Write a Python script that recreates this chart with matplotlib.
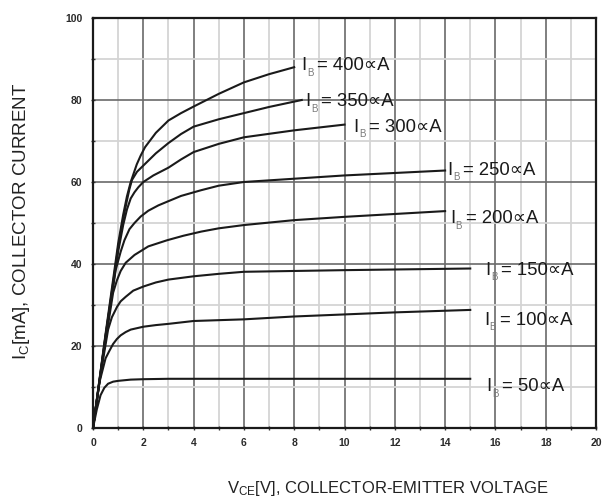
import numpy as np
import matplotlib.pyplot as plt

plt.rcParams['font.family'] = ['Liberation Sans', 'DejaVu Sans']
plt.rcParams['mathtext.fontset'] = 'custom'
plt.rcParams['mathtext.rm'] = 'Liberation Sans'

# base current curves (VCE [V], IC [mA])
vce_50 = [0, 0.15, 0.3, 0.45, 0.6, 0.8, 1.0, 1.5, 2, 3, 15]
ic_50 = [0, 4.5, 8, 9.8, 10.8, 11.3, 11.5, 11.8, 11.9, 12, 12]

vce_100 = [0, 0.25, 0.5, 0.65, 0.8, 0.95, 1.1, 1.3, 1.5, 2, 2.5, 3, 4, 6, 8, 10, 12, 15]
ic_100 = [0, 11, 17, 18.8, 20.5, 21.7, 22.6, 23.4, 24, 24.7, 25.1, 25.4, 26.1, 26.5, 27.2, 27.7, 28.2, 28.8]

vce_150 = [0, 0.3, 0.6, 0.75, 0.96, 1.1, 1.3, 1.6, 2, 2.5, 3, 4, 5, 6, 8, 10, 15]
ic_150 = [0, 13, 24, 27, 29.6, 30.9, 32, 33.5, 34.5, 35.5, 36.2, 37, 37.6, 38.1, 38.3, 38.5, 38.9]

vce_200 = [0, 0.4, 0.8, 0.95, 1.1, 1.3, 1.65, 2.2, 2.95, 3.6, 4.3, 5, 6, 8, 10, 14]
ic_200 = [0, 17.5, 33, 36, 38.3, 40.3, 42.2, 44.3, 45.8, 46.9, 47.9, 48.7, 49.5, 50.7, 51.5, 52.9]

vce_250 = [0, 0.5, 0.9, 1.1, 1.25, 1.45, 1.65, 1.9, 2.2, 2.6, 2.95, 3.5, 4.3, 5, 6, 8, 10, 14]
ic_250 = [0, 22, 38.5, 43, 45.8, 48.5, 50, 51.6, 53, 54.3, 55.2, 56.6, 58, 59.1, 60, 60.8, 61.6, 62.8]

vce_300 = [0, 0.5, 1.0, 1.2, 1.35, 1.5, 1.65, 1.8, 2, 2.4, 3, 3.5, 4, 5, 6, 8, 10]
ic_300 = [0, 22.5, 43, 49.5, 53.3, 56, 57.5, 58.7, 60, 61.6, 63.5, 65.5, 67.3, 69.3, 70.9, 72.6, 74]

vce_350 = [0, 0.5, 1.0, 1.2, 1.35, 1.45, 1.55, 1.75, 2, 2.5, 3, 3.5, 4, 5, 6, 7, 8.3]
ic_350 = [0, 22.5, 44, 51, 55.5, 58.3, 60.5, 62.5, 64, 67, 69.5, 71.7, 73.5, 75.3, 76.8, 78.3, 80]

vce_400 = [0, 0.5, 1.0, 1.2, 1.35, 1.5, 1.74, 1.9, 2.07, 2.5, 3, 3.5, 4, 5, 6, 7, 8]
ic_400 = [0, 23, 45, 52, 56.5, 60, 64.3, 66.5, 68.5, 72, 75, 76.8, 78.4, 81.5, 84.3, 86.3, 88]

curves = [(vce_50, ic_50), (vce_100, ic_100), (vce_150, ic_150), (vce_200, ic_200),
          (vce_250, ic_250), (vce_300, ic_300), (vce_350, ic_350), (vce_400, ic_400)]

# curve labels: base current and where the label sits
label_ib = ['50', '100', '150', '200', '250', '300', '350', '400']
label_x = [15.65, 15.55, 15.6, 14.2, 14.1, 10.36, 8.45, 8.29]
label_y = [10.1, 26.3, 38.5, 51.0, 62.8, 73.3, 79.6, 88.4]

fig = plt.figure(figsize=(6.02, 5.04), dpi=100)
ax = fig.add_axes([93/602, 1 - 428/504, 503/602, 410/504])

# grid: light lines every 1 V / 10 mA, darker every 2 V / 20 mA
ax.set_xticks(np.arange(0, 21, 2))
ax.set_xticks(np.arange(0, 21, 1), minor=True)
ax.set_yticks(np.arange(0, 101, 20))
ax.set_yticks(np.arange(0, 101, 10), minor=True)
ax.grid(which='minor', color='#d4d4d4', linewidth=1.3)
ax.grid(which='major', color='#6a6a6a', linewidth=1.2)
ax.set_axisbelow(True)

for vce, ic in curves:
    ax.plot(vce, ic, color='#1a1a1a', linewidth=1.5)

# "I", small "B" and "= ...∝A" as separate plain texts (lets ∝ fall back to DejaVu)
for ib, lx, ly in zip(label_ib, label_x, label_y):
    ax.text(lx, ly, 'I', fontsize=13.3, va='center', ha='left', color='#1a1a1a')
    ax.annotate('B', xy=(lx, ly), xytext=(4.0, -5.0), textcoords='offset points',
                fontsize=7, va='center', ha='left', color='#7a7a7a')
    ax.annotate('= ' + ib + '∝A', xy=(lx, ly), xytext=(11.2, 0), textcoords='offset points',
                fontsize=13.3, va='center', ha='left', color='#1a1a1a')

ax.set_xlim(0, 20)
ax.set_ylim(0, 100)
for s in ax.spines.values():
    s.set_linewidth(1.6)
    s.set_color('#1a1a1a')

ax.tick_params(which='both', direction='inout', length=3, width=1, color='#333333')
ax.tick_params(axis='x', pad=6)
ax.tick_params(axis='y', pad=6)
for lbl in ax.get_xticklabels() + ax.get_yticklabels():
    lbl.set_fontsize(7.5)
    lbl.set_fontweight('bold')
    lbl.set_color('#2a2a2a')

fig.text(22/602, 1 - 221/504, r'$\mathregular{I_C}$[mA], COLLECTOR CURRENT', rotation=90,
         fontsize=13.5, ha='center', va='center', color='#222222')
fig.text(388/602, 1 - 488/504, r'$\mathregular{V_{CE}}$[V], COLLECTOR-EMITTER VOLTAGE',
         fontsize=12, ha='center', va='center', color='#222222')

fig.savefig('out.png', dpi=100)
